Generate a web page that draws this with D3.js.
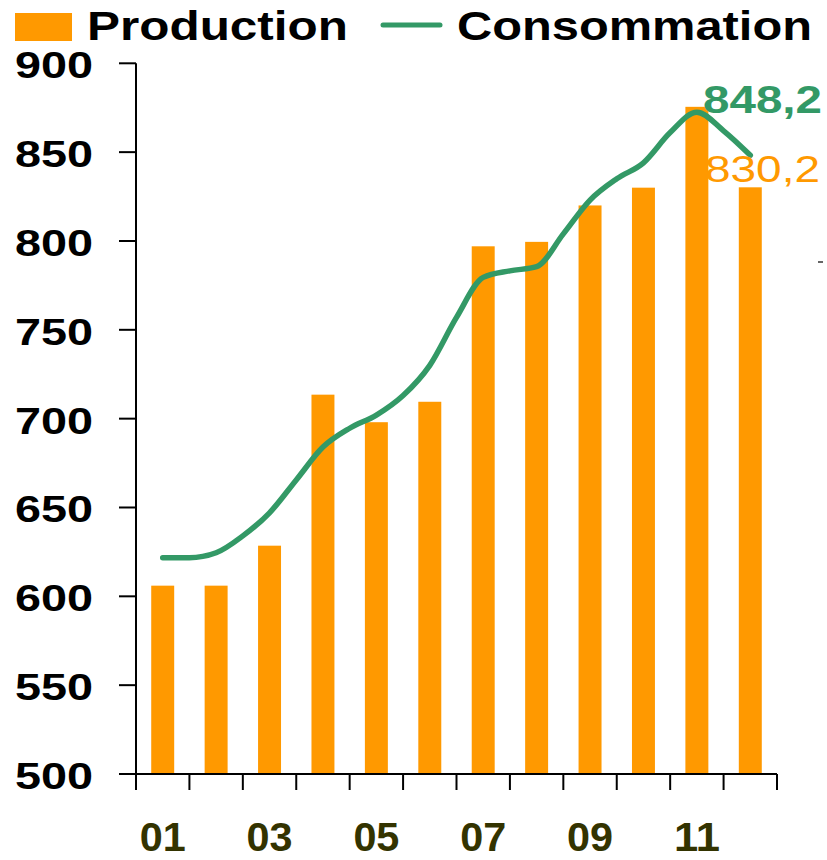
<!DOCTYPE html>
<html>
<head>
<meta charset="utf-8">
<script src="https://cdn.jsdelivr.net/npm/d3@7"></script>
<style>
  html, body { margin: 0; padding: 0; background: #fff; }
  svg { display: block; font-family: "Liberation Sans", Arial, sans-serif; }
</style>
</head>
<body>
<svg id="chart" width="827" height="860"></svg>
<script>
// ---- data ----
const categories = ["01","02","03","04","05","06","07","08","09","10","11","12"];
const xTickLabels = ["01","03","05","07","09","11"];
const production = [606, 606, 628.5, 713.5, 698, 709.5, 797, 799.5, 820, 830, 875.5, 830.2];
const consoPos = [1, 1.5, 2, 2.5, 3, 3.5, 4, 4.5, 5, 5.5, 6, 6.5, 7, 7.5, 8, 8.5, 9, 9.5, 10, 10.5, 11, 11.5, 12];
const consommation = [621.7, 621.7, 624.5, 634, 647, 665.5, 684, 694.6, 702, 713, 730, 757, 779.5, 783.2, 785.5, 804, 823, 835, 844, 861, 872.5, 862, 848.2];
const yTicks = [500, 550, 600, 650, 700, 750, 800, 850, 900];
const seriesNames = ["Production", "Consommation"];
const endLabels = ["848,2", "830,2"];

const colOrange = "#FF9900";
const colGreen = "#339966";

const svg = d3.select("#chart");

const x0 = 136, x1 = 777, yTop = 63.3, yBot = 774;

const y = d3.scaleLinear().domain([500, 900]).range([yBot, yTop]);
const xBand = d3.scaleBand().domain(categories).range([x0, x1])
  .paddingInner(0.57).paddingOuter(0.285);
const xPos = d3.scaleLinear().domain([0.5, 12.5]).range([x0, x1]);
const xEdge = d3.scaleLinear().domain([0, 12]).range([x0, x1]);

// bars
svg.append("g").selectAll("rect").data(production).join("rect")
  .attr("x", (d, i) => xBand(categories[i]))
  .attr("y", d => y(d))
  .attr("width", xBand.bandwidth())
  .attr("height", d => yBot - y(d))
  .attr("fill", colOrange);

// line
const line = d3.line()
  .x((d, i) => xPos(consoPos[i]))
  .y(d => y(d))
  .curve(d3.curveMonotoneX);
svg.append("path").datum(consommation)
  .attr("d", line)
  .attr("fill", "none")
  .attr("stroke", colGreen)
  .attr("stroke-width", 5.5)
  .attr("stroke-linecap", "round")
  .attr("stroke-linejoin", "round");

// y axis
const yAxis = svg.append("g");
yAxis.append("line").attr("x1", x0).attr("x2", x0).attr("y1", yTop).attr("y2", yBot)
  .attr("stroke", "#000").attr("stroke-width", 2);
yAxis.selectAll("line.tick").data(yTicks).join("line").attr("class", "tick")
  .attr("x1", 119).attr("x2", x0).attr("y1", d => y(d)).attr("y2", d => y(d))
  .attr("stroke", "#000").attr("stroke-width", 2);
yAxis.selectAll("text").data(yTicks).join("text")
  .attr("x", 15).attr("y", d => y(d) + 15)
  .attr("font-size", 37).attr("font-weight", "bold").attr("fill", "#000")
  .attr("textLength", 78).attr("lengthAdjust", "spacingAndGlyphs")
  .text(d => d);

// x axis
const xAxis = svg.append("g");
xAxis.append("line").attr("x1", 119).attr("x2", x1).attr("y1", yBot).attr("y2", yBot)
  .attr("stroke", "#000").attr("stroke-width", 2);
xAxis.selectAll("line.tick").data(d3.range(13)).join("line").attr("class", "tick")
  .attr("x1", d => xEdge(d)).attr("x2", d => xEdge(d)).attr("y1", yBot).attr("y2", yBot + 16)
  .attr("stroke", "#000").attr("stroke-width", 2);
xAxis.selectAll("text").data(xTickLabels).join("text")
  .attr("x", d => xBand(d) + xBand.bandwidth() / 2 - 23)
  .attr("y", 851)
  .attr("font-size", 40).attr("font-weight", "bold").attr("fill", "#333300")
  .attr("textLength", 46).attr("lengthAdjust", "spacingAndGlyphs")
  .text(d => d);

// end labels
svg.append("text").attr("x", 703).attr("y", 113)
  .attr("font-size", 39).attr("font-weight", "bold").attr("fill", colGreen)
  .attr("textLength", 119).attr("lengthAdjust", "spacingAndGlyphs")
  .text(endLabels[0]);
svg.append("text").attr("x", 705).attr("y", 182)
  .attr("font-size", 36).attr("fill", colOrange)
  .attr("textLength", 115).attr("lengthAdjust", "spacingAndGlyphs")
  .text(endLabels[1]);

// small stray dash
svg.append("line").attr("x1", 818).attr("x2", 823).attr("y1", 262).attr("y2", 262)
  .attr("stroke", "#333").attr("stroke-width", 1.5);

// legend
const lg = svg.append("g");
lg.append("rect").attr("x", 15).attr("y", 13).attr("width", 57).attr("height", 28).attr("fill", colOrange);
lg.append("text").attr("x", 87).attr("y", 40)
  .attr("font-size", 40).attr("font-weight", "bold").attr("fill", "#000")
  .attr("textLength", 261).attr("lengthAdjust", "spacingAndGlyphs")
  .text(seriesNames[0]);
lg.append("line").attr("x1", 383).attr("x2", 440).attr("y1", 25).attr("y2", 25)
  .attr("stroke", colGreen).attr("stroke-width", 5).attr("stroke-linecap", "round");
lg.append("text").attr("x", 457).attr("y", 40)
  .attr("font-size", 40).attr("font-weight", "bold").attr("fill", "#000")
  .attr("textLength", 355).attr("lengthAdjust", "spacingAndGlyphs")
  .text(seriesNames[1]);
</script>
</body>
</html>
